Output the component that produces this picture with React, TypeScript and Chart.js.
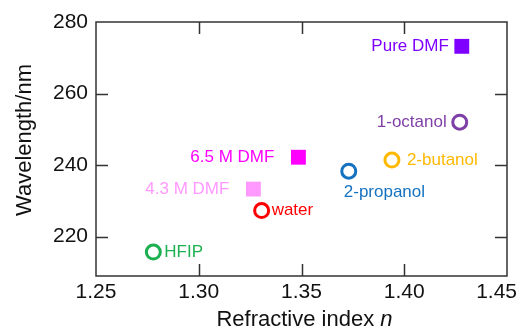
import React, { useEffect, useRef } from "react";
import { Chart, registerables } from "chart.js";

Chart.register(...registerables);

// ---- data ----
const names = ["Pure DMF", "1-octanol", "2-butanol", "2-propanol", "6.5 M DMF", "4.3 M DMF", "water", "HFIP"];
const refractiveIndex = [1.428, 1.427, 1.394, 1.373, 1.3485, 1.3266, 1.3306, 1.2779];
const wavelength = [273.2, 252.0, 241.4, 238.3, 242.2, 233.3, 227.3, 215.7];
const colors = ["#7F00FF", "#7E3FA6", "#FFB900", "#1572C0", "#FF00FF", "#FF99FF", "#FF0000", "#1DB050"];
const filledSquare = [true, false, false, false, true, true, false, false];
const xTicks = [1.25, 1.3, 1.35, 1.4, 1.45];
const xTickLabels = ["1.25", "1.30", "1.35", "1.40", "1.45"];
const yTicks = [220, 240, 260, 280];
const xTitle = "Refractive index ";
const xTitleItalic = "n";
const yTitle = "Wavelength/nm";

// ---- label placement (styles) ----
const labelPlacement: { dx: number; dy: number; align: CanvasTextAlign }[] = [
  { dx: -13, dy: 0, align: "right" },
  { dx: -13, dy: 0, align: "right" },
  { dx: 15, dy: 0, align: "left" },
  { dx: -5, dy: 21, align: "left" },
  { dx: -24, dy: 0, align: "right" },
  { dx: -24, dy: 0, align: "right" },
  { dx: 10, dy: 0, align: "left" },
  { dx: 11, dy: 0, align: "left" },
];

const FONT = "'Liberation Sans', Arial, sans-serif";
const FRAME = "#333333";
const TICK_FONT = `21px ${FONT}`;

const framePlugin = {
  id: "frameAndLabels",
  afterDatasetsDraw(chart: any) {
    const ctx: CanvasRenderingContext2D = chart.ctx;
    ctx.save();
    ctx.font = `17px ${FONT}`;
    ctx.textBaseline = "middle";
    chart.data.datasets.forEach((ds: any, i: number) => {
      const el = chart.getDatasetMeta(i).data[0];
      if (!el) return;
      const p = labelPlacement[i];
      ctx.fillStyle = colors[i];
      ctx.textAlign = p.align;
      ctx.fillText(names[i], el.x + p.dx, el.y + p.dy);
    });
    ctx.restore();
  },
  afterDraw(chart: any) {
    const ctx: CanvasRenderingContext2D = chart.ctx;
    const { left, right, top, bottom } = chart.chartArea;
    const xs = chart.scales.x;
    const ys = chart.scales.y;
    const tl = 12;
    ctx.save();
    ctx.strokeStyle = FRAME;
    ctx.lineWidth = 1.5;
    ctx.beginPath();
    ctx.rect(left, top, right - left, bottom - top);
    ctx.stroke();
    ctx.beginPath();
    xTicks.forEach((v) => {
      if (v <= xs.min || v >= xs.max) return;
      const px = Math.round(xs.getPixelForValue(v)) + 0.5;
      ctx.moveTo(px, bottom);
      ctx.lineTo(px, bottom - tl);
      ctx.moveTo(px, top);
      ctx.lineTo(px, top + tl);
    });
    yTicks.forEach((v) => {
      if (v <= ys.min || v >= ys.max) return;
      const py = Math.round(ys.getPixelForValue(v)) + 0.5;
      ctx.moveTo(left, py);
      ctx.lineTo(left + tl, py);
      ctx.moveTo(right, py);
      ctx.lineTo(right - tl, py);
    });
    ctx.stroke();

    // x tick labels (kept inside the canvas)
    ctx.fillStyle = "#111";
    ctx.font = TICK_FONT;
    ctx.textAlign = "left";
    ctx.textBaseline = "alphabetic";
    const W = chart.width;
    xTicks.forEach((v, i) => {
      const w = ctx.measureText(xTickLabels[i]).width;
      let x0 = xs.getPixelForValue(v) - w / 2;
      if (x0 + w > W - 5) x0 = W - 5 - w;
      ctx.fillText(xTickLabels[i], x0, bottom + 22);
    });

    // x title with italic n
    ctx.font = `22px ${FONT}`;
    const w1 = ctx.measureText(xTitle).width;
    ctx.font = `italic 22px ${FONT}`;
    const w2 = ctx.measureText(xTitleItalic).width;
    const cx = (left + right) / 2 + 3;
    const startX = cx - (w1 + w2) / 2;
    ctx.font = `22px ${FONT}`;
    ctx.fillText(xTitle, startX, 326);
    ctx.font = `italic 22px ${FONT}`;
    ctx.fillText(xTitleItalic, startX + w1, 326);

    // y title
    ctx.translate(31, 140);
    ctx.rotate(-Math.PI / 2);
    ctx.font = `22px ${FONT}`;
    ctx.textAlign = "center";
    ctx.fillText(yTitle, 0, 0);
    ctx.restore();
  },
};

export default function App() {
  const ref = useRef<HTMLCanvasElement | null>(null);
  useEffect(() => {
    document.body.style.margin = "0";
    if (!ref.current) return;
    const chart = new Chart(ref.current, {
      type: "scatter",
      data: {
        datasets: names.map((n, i) => ({
          label: n,
          data: [{ x: refractiveIndex[i], y: wavelength[i] }],
          pointStyle: filledSquare[i] ? "rect" : "circle",
          pointRadius: filledSquare[i] ? 10.5 : 7,
          pointHoverRadius: filledSquare[i] ? 10.5 : 7,
          borderWidth: filledSquare[i] ? 0 : 3,
          pointBorderWidth: filledSquare[i] ? 0 : 3,
          borderColor: colors[i],
          backgroundColor: filledSquare[i] ? colors[i] : "rgba(255,255,255,0)",
        })),
      },
      options: {
        animation: false,
        responsive: false,
        devicePixelRatio: 1,
        layout: { padding: { left: 0, top: 22, right: 15, bottom: 0 } },
        plugins: { legend: { display: false }, tooltip: { enabled: false } },
        events: [],
        scales: {
          x: {
            type: "linear",
            min: 1.25,
            max: 1.45,
            grid: { display: false, drawTicks: false },
            border: { display: false },
            afterBuildTicks: (s: any) => {
              s.ticks = xTicks.map((v) => ({ value: v }));
            },
            afterFit: (s: any) => {
              s.height = 53;
              s.paddingLeft = 0;
              s.paddingRight = 0;
            },
            ticks: { display: false },
          },
          y: {
            type: "linear",
            min: 209,
            max: 280,
            grid: { display: false, drawTicks: false },
            border: { display: false },
            afterBuildTicks: (s: any) => {
              s.ticks = yTicks.map((v) => ({ value: v }));
            },
            afterFit: (s: any) => {
              s.width = 96;
              s.paddingTop = 0;
              s.paddingBottom = 0;
            },
            ticks: {
              padding: 8,
              color: "#111",
              font: { family: FONT, size: 21 },
              callback: (v: any) => String(v),
            },
          },
        },
      },
      plugins: [framePlugin],
    });
    return () => chart.destroy();
  }, []);
  return (
    <div style={{ width: 522, height: 329 }}>
      <canvas ref={ref} width={522} height={329} style={{ display: "block" }} />
    </div>
  );
}
